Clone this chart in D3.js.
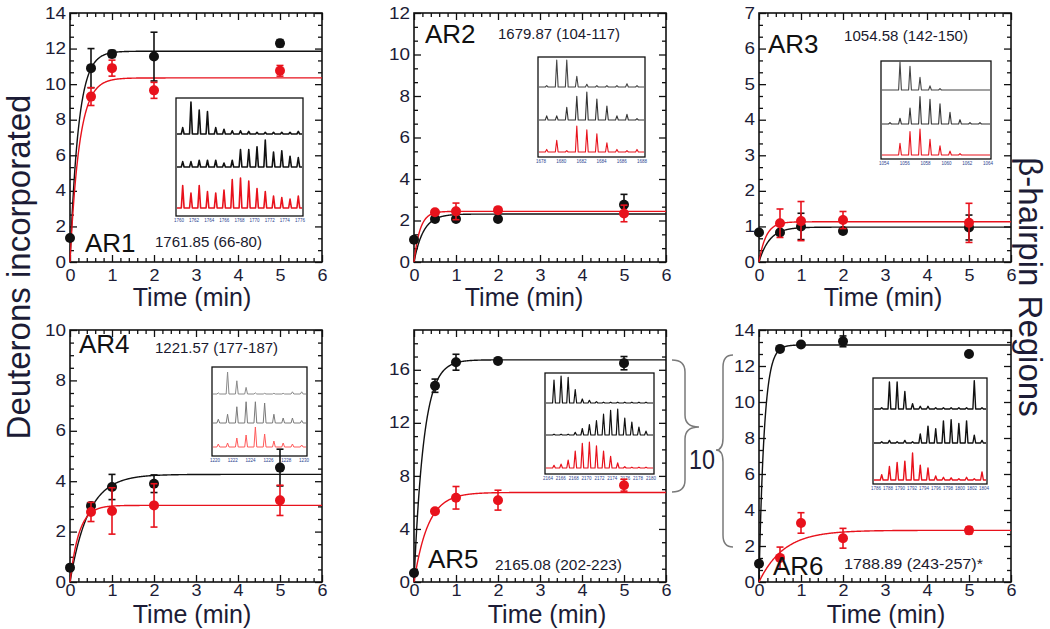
<!DOCTYPE html>
<html>
<head>
<meta charset="utf-8">
<script src="https://cdn.jsdelivr.net/npm/d3@7"></script>
<style>
  html, body { margin: 0; padding: 0; background: #fff; }
  svg { display: block; font-family: "Liberation Sans", Arial, sans-serif; }
</style>
</head>
<body>
<svg id="chart" width="1050" height="629"></svg>
<script>
// ---------------- DATA ----------------
const times = [0, 0.5, 1, 2, 5];
const panelNames = ["AR1", "AR2", "AR3", "AR4", "AR5", "AR6"];
const peptideLabels = ["1761.85 (66-80)", "1679.87 (104-117)", "1054.58 (142-150)",
                       "1221.57 (177-187)", "2165.08 (202-223)", "1788.89 (243-257)*"];
const xTickValues = [0, 1, 2, 3, 4, 5, 6];
const yMax = [14, 12, 7, 10, 19, 14];
const yMajorStep = [2, 2, 1, 2, 4, 2];
const yMinorDiv = [3, 3, 3, 4, 4, 3];

const blackValues = [
  [1.35, 10.9, 11.7, 11.55, 12.3],
  [1.07, 2.07, 2.07, 2.07, 2.76],
  [0.83, 0.83, 1.0, 0.87, 0.97],
  [0.57, 3.02, 3.77, 3.9, 4.54],
  [0.68, 14.8, 16.57, 16.67, 16.5],
  [1.01, 12.95, 13.19, 13.37, 12.67]
];
const blackErrors = [
  [0, 1.1, 0.2, 1.37, 0.2],
  [0, 0.1, 0.1, 0.1, 0.5],
  [0, 0.05, 0.37, 0.05, 0.35],
  [0, 0.1, 0.5, 0.35, 0.73],
  [0, 0.5, 0.6, 0.1, 0.5],
  [0, 0.1, 0.1, 0.3, 0.1]
];
const redValues = [
  [null, 9.3, 10.9, 9.65, 10.75],
  [null, 2.4, 2.44, 2.5, 2.34],
  [null, 1.09, 1.15, 1.18, 1.1],
  [null, 2.78, 2.82, 3.04, 3.24],
  [null, 5.34, 6.35, 6.17, 7.3],
  [null, 1.34, 3.28, 2.43, 2.87]
];
const redErrors = [
  [0, 0.5, 0.45, 0.45, 0.3],
  [0, 0.1, 0.4, 0.1, 0.4],
  [0, 0.4, 0.55, 0.24, 0.55],
  [0, 0.38, 0.92, 0.86, 0.6],
  [0, 0.1, 0.85, 0.75, 0.45],
  [0, 0.6, 0.57, 0.55, 0.2]
];
// single-exponential fits: D(t) = plateau * (1 - exp(-rate * t))
const blackFitPlateau = [11.85, 2.31, 0.98, 4.27, 16.75, 13.17];
const blackFitRate    = [5.0, 4.5, 4.0, 2.3, 4.3, 8.0];
const redFitPlateau   = [10.35, 2.44, 1.13, 3.04, 6.75, 2.87];
const redFitRate      = [4.5, 7.0, 6.0, 4.7, 3.0, 1.7];

// inset mass spectra: relative peak heights per isotope slot
const insetTopTrace = [
  [0.2, 1.0, 0.75, 0.7, 0.2, 0.15, 0.1, 0.1, 0.08, 0.05, 0.05, 0.05, 0.05, 0.05, 0.08],
  [0.05, 1.0, 1.0, 0.4, 0.1, 0.05, 0.05, 0.05, 0.12, 0.05],
  [0, 1.0, 0.85, 0.45, 0.15, 0.05, 0, 0, 0, 0],
  [0.05, 1.0, 0.6, 0.3, 0.05, 0.03, 0.03, 0.03, 0.1, 0.1],
  [0.85, 1.0, 0.95, 0.5, 0.15, 0.1, 0.05, 0.03, 0.03, 0.03, 0.03, 0.03, 0.03, 0.03],
  [0.05, 1.0, 1.0, 0.65, 0.2, 0.1, 0.1, 0.05, 0.05, 0.05, 0.05, 0.05, 1.05, 0.05]
];
const insetMidTrace = [
  [0.2, 0.2, 0.25, 0.25, 0.25, 0.15, 0.25, 0.65, 0.65, 0.75, 1.0, 0.55, 0.6, 0.4, 0.35],
  [0.15, 0.15, 0.45, 0.85, 1.0, 0.75, 0.5, 0.15, 0.2, 0.05],
  [0.05, 0.2, 0.55, 0.95, 0.85, 0.7, 0.4, 0.15, 0.05, 0.05],
  [0.15, 0.35, 0.65, 0.85, 0.85, 0.8, 0.35, 0.2, 0.2, 0.1],
  [0.03, 0.03, 0.03, 0.1, 0.25, 0.4, 0.55, 0.8, 0.95, 1.0, 0.65, 0.5, 0.3, 0.15],
  [0.05, 0.1, 0.05, 0.1, 0.05, 0.35, 0.65, 0.55, 0.85, 0.9, 0.75, 0.85, 0.3, 0.1]
];
const insetRedTrace = [
  [0.75, 0.5, 0.75, 0.55, 0.5, 0.6, 0.95, 1.0, 0.9, 0.65, 0.55, 0.4, 0.35, 0.3, 0.4],
  [0.1, 0.45, 0.05, 1.0, 0.85, 0.7, 0.35, 0.1, 0.05, 0.1],
  [0, 0.45, 0.9, 1.0, 0.6, 0.35, 0.15, 0.05, 0, 0],
  [0.15, 0.2, 0.45, 0.6, 1.0, 0.65, 0.3, 0.2, 0.15, 0.1],
  [0.1, 0.15, 0.3, 0.65, 0.95, 1.0, 0.85, 0.65, 0.45, 0.2, 0.05, 0.03, 0.03, 0.03],
  [0.2, 0.5, 0.65, 0.7, 1.0, 0.55, 0.45, 0.15, 0.1, 0.08, 0.05, 0.1, 0.05, 0.3]
];
const insetMzLabels = [
  ["1760", "1762", "1764", "1766", "1768", "1770", "1772", "1774", "1776"],
  ["1678", "1680", "1682", "1684", "1686", "1688"],
  ["1054", "1056", "1058", "1060", "1062", "1064"],
  ["1220", "1222", "1224", "1226", "1228", "1230"],
  ["2164", "2166", "2168", "2170", "2172", "2174", "2176", "2178", "2180"],
  ["1786", "1788", "1790", "1792", "1794", "1796", "1798", "1800", "1802", "1804"]
];

const xTitle = "Time (min)";
const yTitle = "Deuterons incorporated";
const rightTitle = "β-hairpin Regions";
const braceLabel = "10";

// ---------------- LAYOUT ----------------
const L = {
  left:   [70, 414, 759, 70, 414, 759],
  top:    [13, 13, 13, 330, 330, 330],
  bottom: [262, 262, 262, 582, 582, 582],
  width: 252,
  tickPad: [8, 8, 8, 3, 3, 3],
  titleX: [192, 524, 883, 192, 547, 886],
  titleY: [306, 306, 306, 623, 623, 623],
  nameX: [85, 425, 768, 79, 428, 773],
  nameY: [252, 43, 53, 353, 568, 575],
  pepX: [155, 498, 844, 155, 495, 844],
  pepY: [247, 39, 41, 353, 570, 569],
  pepW: [107, 122, 124, 123, 127, 139],
  inset: [
    {x: 176, y: 98,  w: 127, h: 118, base: [134, 167, 208], H: [32, 27, 30], s0: 182.7, s1: 298.3, sw: 1.6},
    {x: 538, y: 57,  w: 107, h: 100, base: [87, 120, 152],  H: [27, 28, 26], s0: 546.7, s1: 637,   sw: 1.1},
    {x: 881, y: 61,  w: 110, h: 98,  base: [90, 124, 155],  H: [28, 29, 26], s0: 890,   s1: 980,   sw: 1.1},
    {x: 212, y: 367, w: 95,  h: 89,  base: [394, 423, 447], H: [22, 25, 20], s0: 218.3, s1: 301.7, sw: 1.0},
    {x: 545, y: 373, w: 109, h: 101, base: [403, 435, 468], H: [27, 26, 26], s0: 554,   s1: 646,   sw: 1.2},
    {x: 873, y: 378, w: 114, h: 106, base: [409, 443, 480], H: [27, 26, 27], s0: 881.7, s1: 982,   sw: 1.4}
  ]
};
const RED = "#e8121c";
const TXT = "#1c1c36";

const svg = d3.select("#chart");

function inwardAxis(gen, scale, size, values, labels) {
  return gen(scale).tickValues(values).tickSizeInner(-size).tickSizeOuter(0)
    .tickPadding(4).tickFormat(labels ? d3.format("d") : "");
}

for (let p = 0; p < 6; p++) {
  const x0 = L.left[p], x1 = x0 + L.width, y0 = L.top[p], y1 = L.bottom[p];
  const x = d3.scaleLinear().domain([0, 6]).range([x0, x1]);
  const y = d3.scaleLinear().domain([0, yMax[p]]).range([y1, y0]);
  const g = svg.append("g");

  const majorY = d3.range(0, yMax[p] + 1e-6, yMajorStep[p]);
  const minorStep = yMajorStep[p] / yMinorDiv[p];
  const minorY = d3.range(0, yMax[p] + 1e-6, minorStep)
    .filter(v => Math.abs(v / yMajorStep[p] - Math.round(v / yMajorStep[p])) > 1e-6 && v < yMax[p] - 1e-6);
  const majorX = xTickValues;
  const minorX = d3.range(0, 6.0001, 0.2).filter(v => Math.abs(v - Math.round(v)) > 1e-6);

  // axes (ticks inward on all four sides)
  const axes = g.append("g").attr("class", "axes");
  const leftAx = axes.append("g").attr("transform", `translate(${x0},0)`)
    .call(inwardAxis(d3.axisLeft, y, 7, majorY, true));
  axes.append("g").attr("transform", `translate(${x0},0)`).call(inwardAxis(d3.axisLeft, y, 4, minorY, false));
  axes.append("g").attr("transform", `translate(${x1},0)`).call(inwardAxis(d3.axisRight, y, 7, majorY, false));
  axes.append("g").attr("transform", `translate(${x1},0)`).call(inwardAxis(d3.axisRight, y, 4, minorY, false));
  const botAx = axes.append("g").attr("transform", `translate(0,${y1})`)
    .call(inwardAxis(d3.axisBottom, x, 7, majorX, true).tickPadding(L.tickPad[p]));
  axes.append("g").attr("transform", `translate(0,${y1})`).call(inwardAxis(d3.axisBottom, x, 4, minorX, false));
  axes.append("g").attr("transform", `translate(0,${y0})`).call(inwardAxis(d3.axisTop, x, 7, majorX, false));
  axes.append("g").attr("transform", `translate(0,${y0})`).call(inwardAxis(d3.axisTop, x, 4, minorX, false));
  axes.selectAll(".domain").remove();
  axes.selectAll(".tick line").attr("stroke", "#111").attr("stroke-width", 1.3);
  axes.selectAll("text").attr("font-size", 16).attr("fill", TXT)
    .attr("font-family", "Liberation Sans, Arial, sans-serif");
  leftAx.selectAll("text").each(function () {
    const t = d3.select(this);
    t.attr("textLength", t.text().length * 10.5).attr("lengthAdjust", "spacingAndGlyphs");
  });
  botAx.selectAll("text").each(function () {
    const t = d3.select(this);
    t.attr("textLength", t.text().length * 10).attr("lengthAdjust", "spacingAndGlyphs");
  });

  // frame
  g.append("rect").attr("x", x0).attr("y", y0).attr("width", x1 - x0).attr("height", y1 - y0)
    .attr("fill", "none").attr("stroke", "#111").attr("stroke-width", 1.6);

  // inset spectra
  const ins = L.inset[p];
  const ig = g.append("g").attr("class", "inset");
  ig.append("rect").attr("x", ins.x).attr("y", ins.y).attr("width", ins.w).attr("height", ins.h)
    .attr("fill", "#fff").attr("stroke", "#111").attr("stroke-width", 1.3);
  const traces = [insetTopTrace[p], insetMidTrace[p], insetRedTrace[p]];
  const traceColors = p === 3 ? ["#8a8a8a", "#7a7a7a", "#ff5a5a"]
                    : (p === 1 || p === 2) ? ["#444", "#333", RED] : ["#111", "#111", RED];
  traces.forEach((tr, ti) => {
    const sx = d3.scaleLinear().domain([0, tr.length - 1]).range([ins.s0, ins.s1]);
    const sy = d3.scaleLinear().domain([0, 1]).range([ins.base[ti], ins.base[ti] - ins.H[ti]]);
    const pts = [[ins.x + 1, sy(0)]];
    tr.forEach((h, i) => {
      pts.push([sx(i) - 1.4, sy(0)]);
      pts.push([sx(i), sy(h)]);
      pts.push([sx(i) + 1.4, sy(0)]);
    });
    pts.push([ins.x + ins.w - 1, sy(0)]);
    ig.append("path").attr("d", d3.line()(pts)).attr("fill", "none")
      .attr("stroke", traceColors[ti]).attr("stroke-width", ins.sw).attr("stroke-linejoin", "round");
  });
  const lx = d3.scalePoint().domain(insetMzLabels[p]).range([ins.x + 3, ins.x + ins.w - 3]);
  ig.selectAll("text.mz").data(insetMzLabels[p]).enter().append("text")
    .attr("x", d => lx(d)).attr("y", ins.y + ins.h + 5.5).attr("text-anchor", "middle")
    .attr("font-size", 4.5).attr("fill", "#2b3f8f").text(d => d);

  // fit curves
  const tSamples = d3.range(0, 6.0001, 0.01);
  const fitLine = d3.line().x(d => x(d[0])).y(d => y(d[1]));
  [[blackFitPlateau[p], blackFitRate[p], "#111"], [redFitPlateau[p], redFitRate[p], RED]].forEach(([A, k, c]) => {
    g.append("path")
      .attr("d", fitLine(tSamples.map(t => [t, A * (1 - Math.exp(-k * t))])))
      .attr("fill", "none").attr("stroke", c).attr("stroke-width", 1.4);
  });

  // points with error bars
  const drawSeries = (vals, errs, color) => {
    vals.forEach((v, i) => {
      if (v === null) return;
      const cx = x(times[i]);
      if (errs[i] > 0) {
        const yt = y(v + errs[i]), yb = y(v - errs[i]);
        g.append("line").attr("x1", cx).attr("x2", cx).attr("y1", yt).attr("y2", yb)
          .attr("stroke", color).attr("stroke-width", 1.6);
        [yt, yb].forEach(yy => g.append("line").attr("x1", cx - 3.5).attr("x2", cx + 3.5)
          .attr("y1", yy).attr("y2", yy).attr("stroke", color).attr("stroke-width", 1.6));
      }
      g.append("circle").attr("cx", cx).attr("cy", y(v)).attr("r", 5).attr("fill", color);
    });
  };
  drawSeries(blackValues[p], blackErrors[p], "#111");
  drawSeries(redValues[p], redErrors[p], RED);

  // labels
  g.append("text").attr("x", L.nameX[p]).attr("y", L.nameY[p]).attr("font-size", 26)
    .attr("fill", "#111").text(panelNames[p]);
  g.append("text").attr("x", L.pepX[p]).attr("y", L.pepY[p]).attr("font-size", 14)
    .attr("fill", "#1a1a2e").attr("textLength", L.pepW[p]).attr("lengthAdjust", "spacingAndGlyphs")
    .text(peptideLabels[p]);
  g.append("text").attr("x", L.titleX[p]).attr("y", L.titleY[p]).attr("font-size", 25)
    .attr("text-anchor", "middle").attr("fill", TXT).text(xTitle);
}

// global titles
svg.append("text").attr("transform", "translate(30,267) rotate(-90)").attr("text-anchor", "middle")
  .attr("font-size", 33).attr("fill", TXT).text(yTitle);
svg.append("text").attr("transform", "translate(1019,287) rotate(90)").attr("text-anchor", "middle")
  .attr("font-size", 33).attr("fill", TXT).text(rightTitle);

// braces and "10"
const braceR = d3.path();
braceR.moveTo(672, 360); braceR.quadraticCurveTo(685, 360, 685, 372);
braceR.lineTo(685, 415); braceR.quadraticCurveTo(685, 427, 699, 427);
braceR.quadraticCurveTo(685, 427, 685, 439); braceR.lineTo(685, 480);
braceR.quadraticCurveTo(685, 492, 672, 492);
svg.append("path").attr("d", braceR.toString()).attr("fill", "none").attr("stroke", "#7a7a7a").attr("stroke-width", 1.5);
const braceL = d3.path();
braceL.moveTo(733, 355); braceL.quadraticCurveTo(723, 355, 723, 367);
braceL.lineTo(723, 438); braceL.quadraticCurveTo(723, 450, 716, 450);
braceL.quadraticCurveTo(723, 450, 723, 462); braceL.lineTo(723, 535);
braceL.quadraticCurveTo(723, 547, 733, 547);
svg.append("path").attr("d", braceL.toString()).attr("fill", "none").attr("stroke", "#7a7a7a").attr("stroke-width", 1.5);
svg.append("text").attr("x", 689).attr("y", 469).attr("font-size", 27).attr("fill", TXT)
  .attr("textLength", 26).attr("lengthAdjust", "spacingAndGlyphs").text(braceLabel);
</script>
</body>
</html>
